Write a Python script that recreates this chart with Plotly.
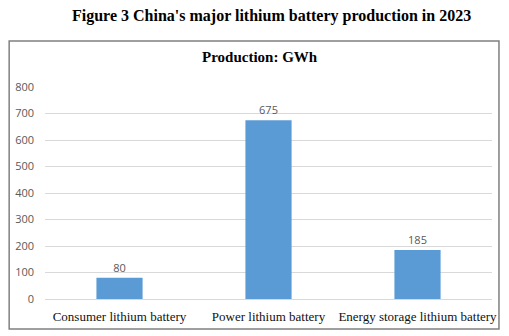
import plotly.graph_objects as go

categories = ["Consumer lithium battery", "Power lithium battery", "Energy storage lithium battery"]
values = [80, 675, 185]
tick_vals = [0, 100, 200, 300, 400, 500, 600, 700, 800]

W, H = 509, 336
L, R, T, B = 45, 15, 87, 37
pw, ph = W - L - R, H - T - B

fig = go.Figure()
fig.add_trace(go.Bar(
    x=categories, y=values,
    marker=dict(color="#5B9BD5", line=dict(width=0)),
    width=0.31,
    text=[str(v) for v in values],
    textposition="outside",
    textfont=dict(family="Open Sans, Liberation Sans, sans-serif", size=11, color="#595959"),
    cliponaxis=False,
))

fig.update_layout(
    width=W, height=H,
    margin=dict(l=L, r=R, t=T, b=B, pad=0),
    paper_bgcolor="white", plot_bgcolor="white",
    showlegend=False,
    bargap=0.69,
    xaxis=dict(
        showgrid=False, zeroline=False, showline=False,
        ticks="", ticklabelstandoff=8,
        tickfont=dict(family="Liberation Serif, serif", size=13, color="#111111"),
        fixedrange=True,
    ),
    yaxis=dict(
        range=[0, 800], tickvals=tick_vals,
        showgrid=True, gridcolor="#D9D9D9", gridwidth=1,
        zeroline=True, zerolinecolor="#D9D9D9", zerolinewidth=1,
        showline=False, ticks="", ticklabelstandoff=10,
        tickfont=dict(family="Open Sans, Liberation Sans, sans-serif", size=11, color="#595959"),
        fixedrange=True,
    ),
    shapes=[dict(
        type="rect", xref="paper", yref="paper",
        x0=(9 - L) / pw, x1=(501 - L) / pw,
        y0=(299 - 329) / ph, y1=(299 - 41) / ph,
        line=dict(color="#808080", width=1.5), fillcolor="rgba(0,0,0,0)", layer="below",
    )],
    annotations=[
        dict(text="<b>Figure 3 China's major lithium battery production in 2023</b>",
             xref="paper", yref="paper", x=(273 - L) / pw, y=(299 - 16) / ph,
             xanchor="center", yanchor="middle", showarrow=False,
             font=dict(family="Liberation Serif, serif", size=16, color="#000000")),
        dict(text="<b>Production: GWh</b>",
             xref="paper", yref="paper", x=(261 - L) / pw, y=(299 - 57) / ph,
             xanchor="center", yanchor="middle", showarrow=False,
             font=dict(family="Liberation Serif, serif", size=15, color="#000000")),
    ],
)

fig.write_html("out.html")
